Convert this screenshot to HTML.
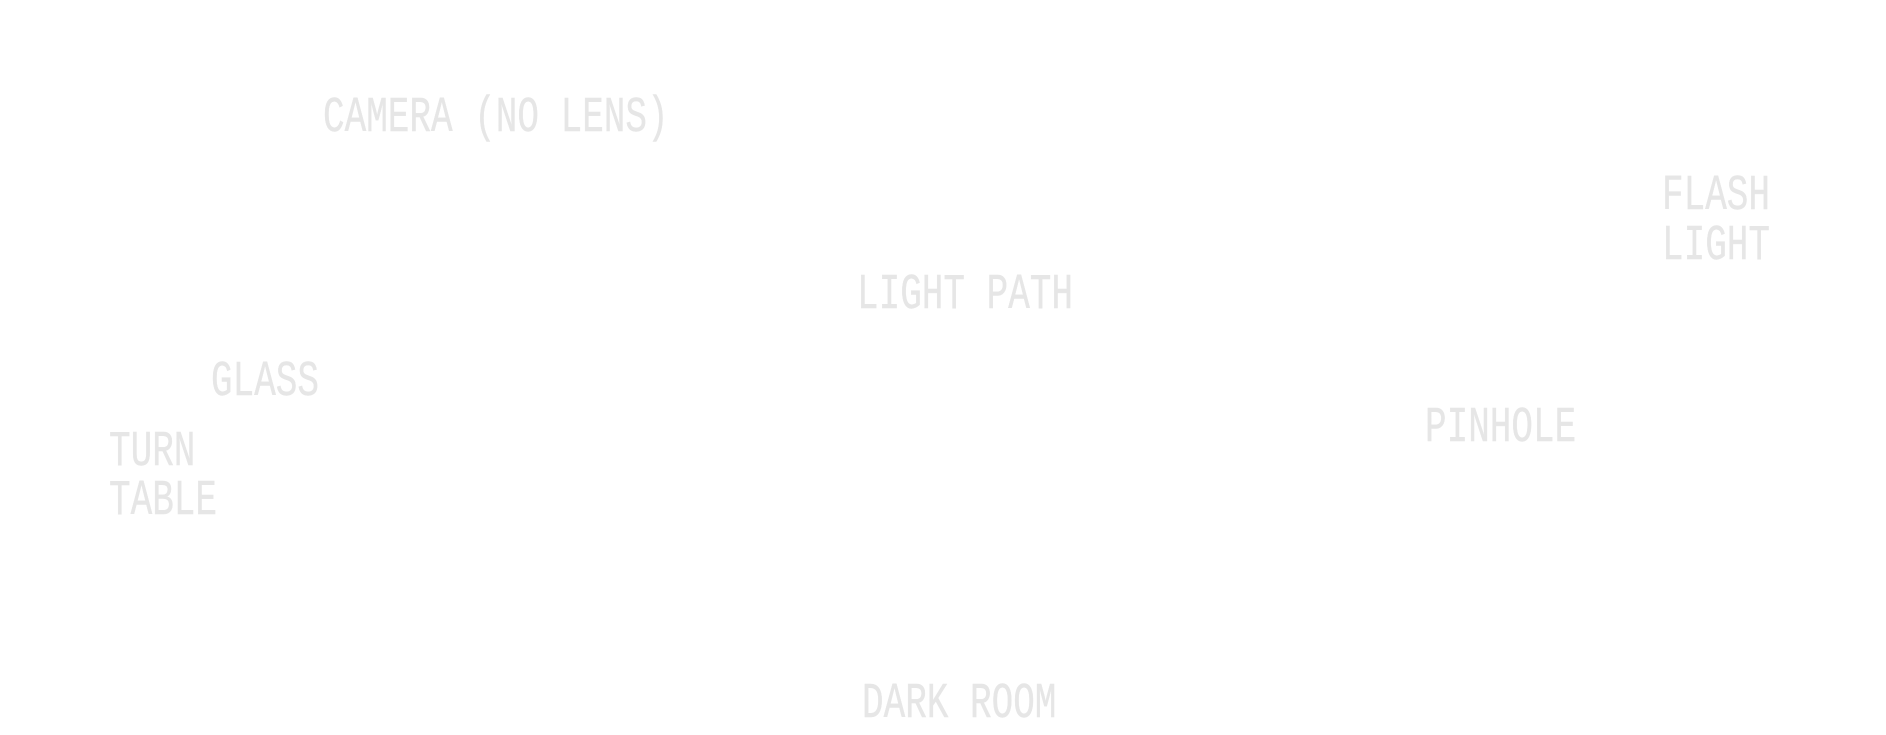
<!DOCTYPE html>
<html><head><meta charset="utf-8"><style>
html,body{margin:0;padding:0;background:#fff;}
svg{display:block;}
text{font-family:"Liberation Mono",monospace;font-size:36px;fill:#e6e6e6;stroke:#e6e6e6;stroke-width:0.3px;}
</style></head><body>
<svg width="1886" height="735" viewBox="0 0 1886 735">
<text transform="translate(323,131) scale(1,1.38)">CAMERA (NO LENS)</text>
<text transform="translate(1662,209) scale(1,1.38)">FLASH</text>
<text transform="translate(1662,259) scale(1,1.38)">LIGHT</text>
<text transform="translate(857,308) scale(1,1.38)">LIGHT PATH</text>
<text transform="translate(211,395) scale(1,1.38)">GLASS</text>
<text transform="translate(109,465) scale(1,1.38)">TURN</text>
<text transform="translate(109,514) scale(1,1.38)">TABLE</text>
<text transform="translate(1425,441) scale(1,1.38)">PINHOLE</text>
<text transform="translate(862,717) scale(1,1.38)">DARK ROOM</text>
</svg>
</body></html>
